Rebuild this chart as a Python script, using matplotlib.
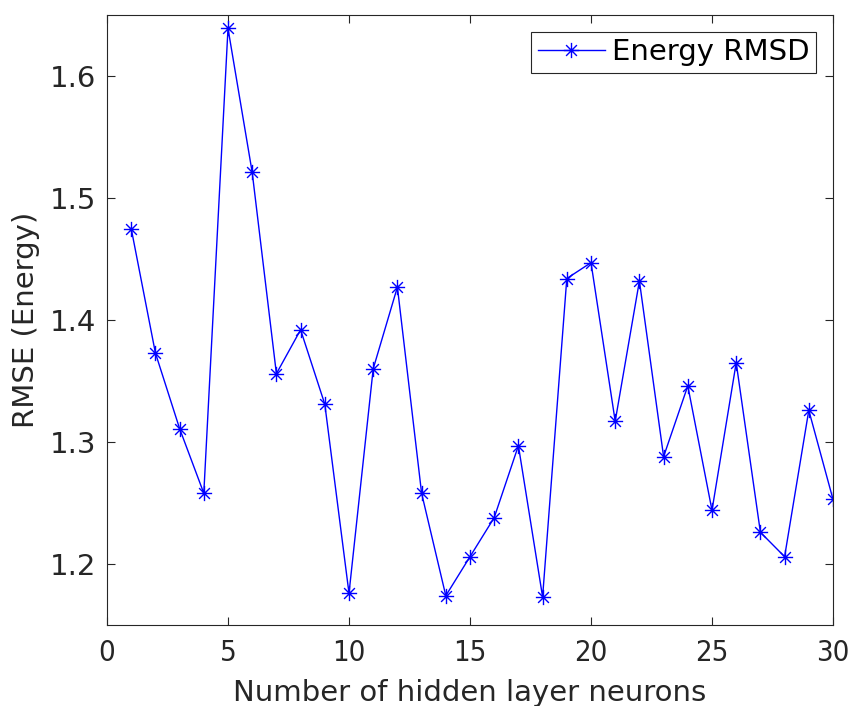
import matplotlib
matplotlib.use("Agg")
import matplotlib.pyplot as plt
from matplotlib.path import Path

neurons = list(range(1, 31))
rmse = [1.475, 1.373, 1.311, 1.258, 1.639, 1.521, 1.356, 1.392, 1.331, 1.176,
        1.360, 1.427, 1.258, 1.174, 1.206, 1.238, 1.297, 1.173, 1.434, 1.447,
        1.317, 1.432, 1.288, 1.346, 1.244, 1.365, 1.226, 1.206, 1.326, 1.253]

# asterisk marker (MATLAB style)
d = 0.7071
verts = [(0, -1), (0, 1), (-1, 0), (1, 0), (-d, -d), (d, d), (-d, d), (d, -d)]
codes = [Path.MOVETO, Path.LINETO] * 4
asterisk = Path(verts, codes)

plt.rcParams['font.family'] = ['DejaVu Sans']
fig = plt.figure(figsize=(8.55, 7.06), dpi=100)
ax = fig.add_axes([107/855, 1-625/706, (833-107)/855, (625-15)/706])
ax.plot(neurons, rmse, color='#0000ff', lw=1.0, marker=asterisk, markersize=11,
        markeredgewidth=1.0, label='Energy RMSD')
ax.set_xlim(0, 30)
ax.set_ylim(1.15, 1.65)
ax.set_xticks([0, 5, 10, 15, 20, 25, 30])
ax.set_yticks([1.2, 1.3, 1.4, 1.5, 1.6])
ax.tick_params(direction='in', top=True, right=True, labelsize=21, colors='#262626',
               length=6, width=0.8)
for lab in ax.get_xticklabels():
    lab.set_fontstretch('condensed')
ax.tick_params(axis='y', pad=8)
ax.tick_params(axis='x', pad=10)
for s in ax.spines.values():
    s.set_color('#262626')
    s.set_linewidth(0.8)
ax.set_xlabel('Number of hidden layer neurons', fontsize=21, color='#262626', labelpad=9)
ax.set_ylabel('RMSE (Energy)', fontsize=21, color='#262626', labelpad=7)
leg = ax.legend(loc='upper right', fontsize=21, fancybox=False, framealpha=1,
                edgecolor='#262626', handlelength=2.3, borderpad=0.22,
                handletextpad=0.25, borderaxespad=0.58)
leg.get_frame().set_linewidth(0.8)
fig.savefig('out.png', dpi=100)
